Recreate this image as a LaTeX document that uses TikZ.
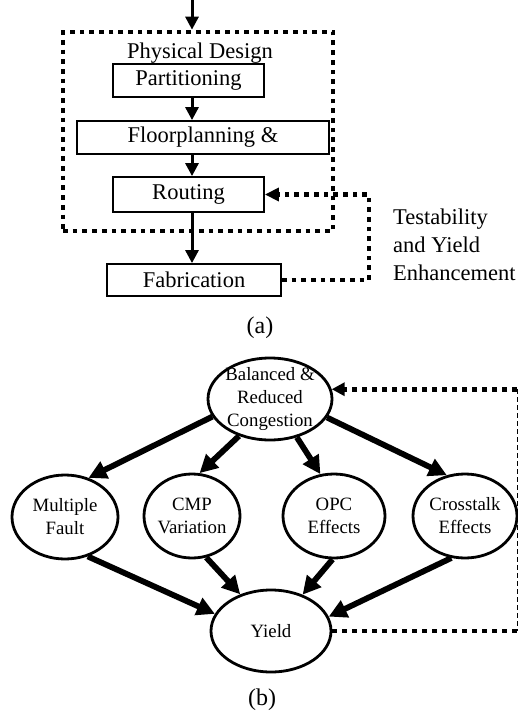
\documentclass[tikz,border=0pt]{standalone}
\usepackage{fontspec}
\setmainfont{Liberation Serif}
\usetikzlibrary{arrows.meta, shapes.geometric}
\begin{document}
\begin{tikzpicture}[x=1pt, y=-1pt,
  boxnode/.style={draw, line width=1.8pt, inner sep=0pt, font=\fontsize{22.5}{26}\selectfont},
  flowarrow/.style={line width=3pt, -{Triangle[width=13pt,length=13pt]}},
  dots/.style={line width=4.7pt, dash pattern=on 4.7pt off 5pt},
  fbarrow/.style={dots, -{Triangle[width=13pt,length=14pt]}},
  bubble/.style={draw, ellipse, line width=2.8pt, inner sep=0pt},
  btext/.style={align=center, font=\fontsize{18.8}{23}\selectfont},
  bigarrow/.style={line width=5.8pt, -{Triangle[width=18pt,length=18pt]}},
  bdots/.style={line width=4.8pt, dash pattern=on 4.8pt off 5.2pt},
  thindash/.style={line width=1pt, dash pattern=on 5pt off 3pt},
  caption/.style={font=\fontsize{24}{26}\selectfont, inner sep=0pt},
]
\useasboundingbox (0,0) rectangle (518,715);

% ---------- (a) ----------
\coordinate (topin) at (192,0);
\coordinate (fbx) at (369,0);
\node[draw, dots, minimum width=270pt, minimum height=199pt, inner sep=0pt] (pd) at (198,131.5) {};
\node[font=\fontsize{22.5}{26}\selectfont, anchor=base, inner sep=0pt] (pdl) at (200,58) {Physical Design};
\node[boxnode, minimum width=151pt, minimum height=33pt] (part) at (188.5,80.5) {Partitioning};
\node[boxnode, minimum width=252pt, minimum height=33pt] (floor) at (203,137.5) {Floorplanning \&};
\node[boxnode, minimum width=151pt, minimum height=35pt] (rout) at (188.5,194.5) {Routing};
\node[boxnode, minimum width=174pt, minimum height=32pt] (fab) at (194,280) {Fabrication};
\node[font=\fontsize{22.5}{28}\selectfont, align=left, anchor=north west, inner sep=0pt] (tye) at (393,209)
  {Testability\\and Yield\\Enhancement};

\draw[flowarrow] (topin) -- (pd.north -| topin);
\draw[flowarrow] (part.south -| topin) -- (floor.north -| topin);
\draw[flowarrow] (floor.south -| topin) -- (rout.north -| topin);
\draw[flowarrow] (rout.south -| topin) -- (fab.north -| topin);
\draw[fbarrow, line join=miter] (fab.east) -| (fbx |- rout.east) -- (rout.east);

\node[caption] (capa) at (260,328) {(a)};

% ---------- (b) ----------
\coordinate (rtx) at (517,0);
\node[bubble, minimum width=124pt, minimum height=82pt,
  label={[btext]center:Balanced \&\\Reduced\\Congestion}] (bal) at (270,399) {};
\node[bubble, minimum width=106pt, minimum height=84pt,
  label={[btext]center:Multiple\\Fault}] (mf) at (65,517) {};
\node[bubble, minimum width=96pt, minimum height=84pt,
  label={[btext]center:CMP\\Variation}] (cmp) at (192,516) {};
\node[bubble, minimum width=102pt, minimum height=84pt,
  label={[btext]center:OPC\\Effects}] (opc) at (334,516) {};
\node[bubble, minimum width=104pt, minimum height=84pt,
  label={[btext]center:Crosstalk\\Effects}] (xt) at (465,516) {};
\node[bubble, minimum width=120pt, minimum height=82pt,
  label={[btext]center:Yield}] (yld) at (271,631) {};

\draw[bigarrow] (bal.197) -- (mf.59);
\draw[bigarrow] (bal.230) -- (cmp.80);
\draw[bigarrow] (bal.305) -- (opc.108);
\draw[bigarrow] (bal.342) -- (xt.114);
\draw[bigarrow] (mf.300) -- (yld.163);
\draw[bigarrow] (cmp.289) -- (yld.130);
\draw[bigarrow] (opc.268) -- (yld.49);
\draw[bigarrow] (xt.252) -- (yld.14);

\draw[bdots, -{Triangle[width=13pt,length=13pt]}] (bal.9.4 -| rtx) -- (bal.9.4);
\draw[bdots] (yld.east) -- (yld.east -| rtx);
\draw[thindash] (bal.9.4 -| rtx) -- (yld.east -| rtx);

\node[caption] (capb) at (262,700) {(b)};
\end{tikzpicture}
\end{document}
